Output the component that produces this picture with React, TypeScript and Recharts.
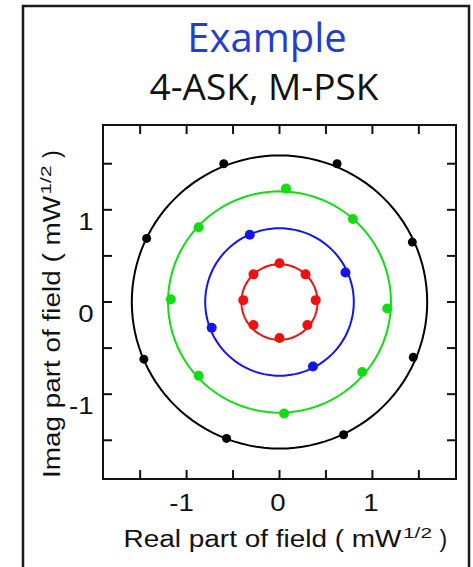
import React from "react";
import { ScatterChart, Scatter, XAxis, YAxis } from "recharts";

type Pt = { x: number; y: number };

// 4-ASK amplitude levels (mW^1/2), innermost first
const ringRadii = [0.41, 0.8, 1.2, 1.59];
const ringColors = ["#ee1111", "#1414ee", "#11dd11", "#000000"];

// constellation points
const redPts: Pt[] = [
  { x: 0, y: 0.42 },
  { x: -0.28, y: 0.3 },
  { x: 0.28, y: 0.3 },
  { x: -0.39, y: 0.02 },
  { x: 0.39, y: 0.02 },
  { x: -0.28, y: -0.25 },
  { x: 0.3, y: -0.25 },
  { x: 0, y: -0.39 },
];
const bluePts: Pt[] = [
  { x: -0.32, y: 0.73 },
  { x: 0.71, y: 0.32 },
  { x: -0.73, y: -0.28 },
  { x: 0.36, y: -0.7 },
];
const greenPts: Pt[] = [
  { x: 0.07, y: 1.23 },
  { x: 0.79, y: 0.9 },
  { x: -0.87, y: 0.81 },
  { x: -1.17, y: 0.03 },
  { x: 1.16, y: -0.07 },
  { x: -0.87, y: -0.8 },
  { x: 0.89, y: -0.76 },
  { x: 0.05, y: -1.21 },
];
const blackPts: Pt[] = [
  { x: -0.6, y: 1.5 },
  { x: 0.62, y: 1.5 },
  { x: -1.43, y: 0.69 },
  { x: 1.43, y: 0.65 },
  { x: -1.46, y: -0.62 },
  { x: 1.44, y: -0.6 },
  { x: -0.57, y: -1.48 },
  { x: 0.69, y: -1.44 },
];

const axisTicks = [-1.5, -1, -0.5, 0, 0.5, 1, 1.5];
const labelledTicks = [-1, 0, 1];
const xDomain = [-1.9, 1.9];
const yDomain = [-1.92, 1.92];

// circle outline for a given amplitude
function ringOutline(r: number): Pt[] {
  const out: Pt[] = [];
  for (let a = 0; a <= 360; a += 3) {
    const t = (a * Math.PI) / 180;
    out.push({ x: r * Math.cos(t), y: r * Math.sin(t) });
  }
  return out;
}

const AXIS_FONT = "'Liberation Sans', Arial, sans-serif";
const TITLE_FONT = "'Open Sans', 'DejaVu Sans', sans-serif";
const INK = "#111";
const TICK_LEN = 9;
const axisLine = { stroke: INK, strokeWidth: 2, strokeLinecap: "square" as const };

const tickText = (v: number) => (v < 0 ? `-${Math.abs(v)}` : `${v}`);

// ticks point into the plot, so the tick renderer draws its own mark
const makeTick = (side: "bottom" | "top" | "left" | "right") => (props: any) => {
  const { x, y, payload } = props;
  const v = payload.value;
  let mark;
  if (side === "bottom") mark = <line x1={x} x2={x} y1={y} y2={y - TICK_LEN} />;
  else if (side === "top") mark = <line x1={x} x2={x} y1={y} y2={y + TICK_LEN} />;
  else if (side === "left") mark = <line x1={x} x2={x + TICK_LEN} y1={y} y2={y} />;
  else mark = <line x1={x} x2={x - TICK_LEN} y1={y} y2={y} />;

  let label = null;
  if (labelledTicks.includes(v)) {
    if (side === "bottom") {
      const shift = v < 0 ? -5 : -1.5;
      label = (
        <text
          transform={`translate(${x + shift},${y + 31.5}) scale(1.15,1)`}
          textAnchor="middle"
          fontFamily={AXIS_FONT}
          fontSize={24}
          fill={INK}
          stroke="none"
        >
          {tickText(v)}
        </text>
      );
    } else if (side === "left") {
      label = (
        <text
          transform={`translate(${x - 9.5},${y + 20}) scale(1.15,1)`}
          textAnchor="end"
          fontFamily={AXIS_FONT}
          fontSize={24}
          fill={INK}
          stroke="none"
        >
          {tickText(v)}
        </text>
      );
    }
  }
  return (
    <g stroke={INK} strokeWidth={2}>
      {mark}
      {label}
    </g>
  );
};

const AxisTitle = ({ tf, main, mainLen }: { tf: string; main: string; mainLen: number }) => (
  <g transform={tf} fontFamily={AXIS_FONT} fill={INK}>
    <text x={0} y={0} fontSize={23} textLength={mainLen} lengthAdjust="spacingAndGlyphs">
      {main}
    </text>
    <text x={mainLen + 1.5} y={-9.3} fontSize={14} textLength={29} lengthAdjust="spacingAndGlyphs">
      1/2
    </text>
    <text x={mainLen + 38} y={0} fontSize={23}>
      )
    </text>
  </g>
);

const XTitle = (props: any) => {
  const vb = props.viewBox || { x: 103, y: 479 };
  return (
    <AxisTitle
      tf={`translate(${vb.x + 20.5},${vb.y + 68.3})`}
      main="Real part of field ( mW"
      mainLen={278}
    />
  );
};

const YTitle = (props: any) => {
  const vb = props.viewBox || { x: 0, y: 125, height: 354 };
  return (
    <AxisTitle
      tf={`translate(${vb.x + 60},${vb.y + vb.height - 1}) rotate(-90)`}
      main="Imag part of field ( mW"
      mainLen={282}
    />
  );
};

const dot = (r: number) => (p: any) => <circle cx={p.cx} cy={p.cy} r={r} fill={p.fill} />;
const noShape = () => <g />;

const pointSets: { pts: Pt[]; color: string; r: number }[] = [
  { pts: redPts, color: ringColors[0], r: 5 },
  { pts: bluePts, color: ringColors[1], r: 5 },
  { pts: greenPts, color: ringColors[2], r: 5 },
  { pts: blackPts, color: ringColors[3], r: 4.5 },
];

export default function App() {
  return (
    <div style={{ position: "absolute", left: 0, top: 0, width: 473, height: 567, overflow: "hidden", background: "#fff" }}>
      <svg width={473} height={567} style={{ position: "absolute", left: 0, top: 0 }}>
        <rect x={23} y={6} width={446} height={620} fill="none" stroke="#1a1a1a" strokeWidth={2.5} />
        <text x={267} y={51.7} textAnchor="middle" fontFamily={TITLE_FONT} fontSize={40} fill="#1f3fd1">
          Example
        </text>
        <text x={264} y={100} textAnchor="middle" fontFamily={TITLE_FONT} fontSize={37} fill={INK}>
          4-ASK, M-PSK
        </text>
      </svg>
      <div style={{ position: "absolute", left: 0, top: 0 }}>
        <ScatterChart width={473} height={567} margin={{ top: 124, right: 16, bottom: 0, left: 0 }}>
          <XAxis
            xAxisId="b"
            type="number"
            dataKey="x"
            orientation="bottom"
            domain={xDomain}
            ticks={axisTicks}
            interval={0}
            allowDataOverflow
            height={88}
            tickSize={0}
            tickMargin={0}
            tickLine={false}
            tick={makeTick("bottom")}
            axisLine={axisLine}
            label={<XTitle />}
          />
          <XAxis
            xAxisId="t"
            type="number"
            dataKey="x"
            orientation="top"
            domain={xDomain}
            ticks={axisTicks}
            interval={0}
            allowDataOverflow
            height={1}
            tickSize={0}
            tickMargin={0}
            tickLine={false}
            tick={makeTick("top")}
            axisLine={axisLine}
          />
          <YAxis
            yAxisId="l"
            type="number"
            dataKey="y"
            orientation="left"
            domain={yDomain}
            ticks={axisTicks}
            interval={0}
            allowDataOverflow
            width={103}
            tickSize={0}
            tickMargin={0}
            tickLine={false}
            tick={makeTick("left")}
            axisLine={axisLine}
            label={<YTitle />}
          />
          <YAxis
            yAxisId="r"
            type="number"
            dataKey="y"
            orientation="right"
            domain={yDomain}
            ticks={axisTicks}
            interval={0}
            allowDataOverflow
            width={1}
            tickSize={0}
            tickMargin={0}
            tickLine={false}
            tick={makeTick("right")}
            axisLine={axisLine}
          />
          {ringRadii.map((r, i) => (
            <Scatter
              key={`ring-${i}`}
              xAxisId="t"
              yAxisId="r"
              data={ringOutline(r)}
              line={{ stroke: ringColors[i], strokeWidth: 2, fill: "none" }}
              lineType="joint"
              lineJointType="linear"
              shape={noShape}
              isAnimationActive={false}
            />
          ))}
          {pointSets.map((s, i) => (
            <Scatter
              key={`pts-${i}`}
              xAxisId="b"
              yAxisId="l"
              data={s.pts}
              fill={s.color}
              shape={dot(s.r)}
              isAnimationActive={false}
            />
          ))}
        </ScatterChart>
      </div>
    </div>
  );
}
